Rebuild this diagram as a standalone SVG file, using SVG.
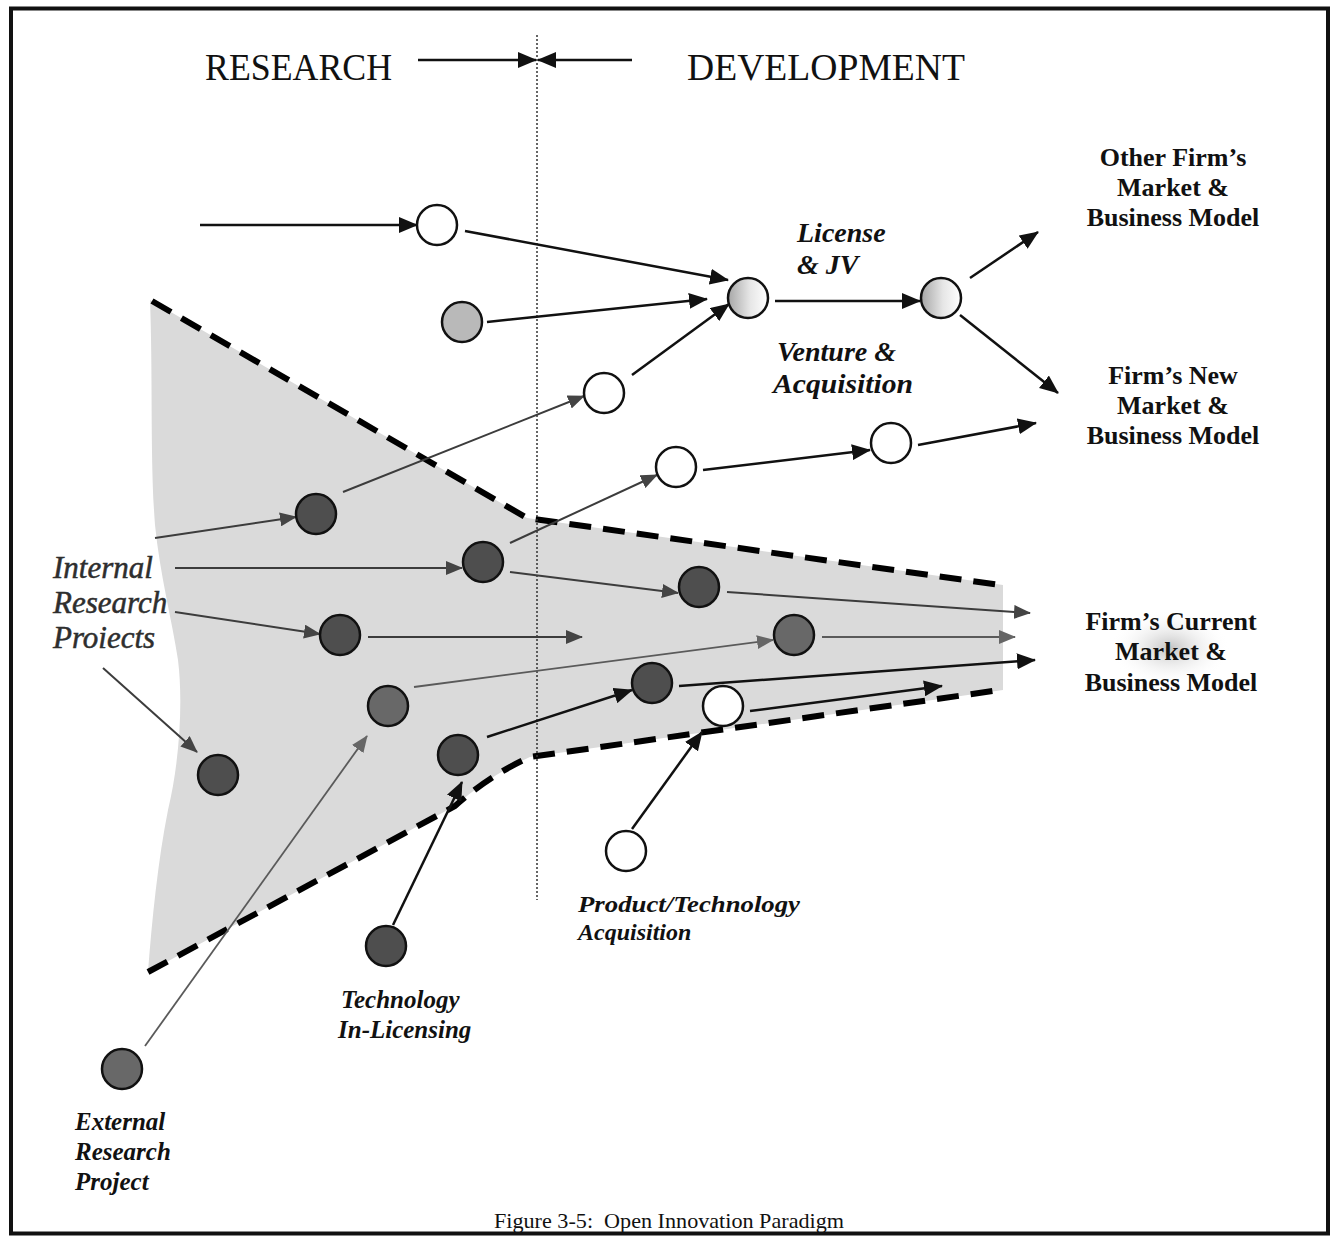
<svg xmlns="http://www.w3.org/2000/svg" width="1334" height="1237" viewBox="0 0 1334 1237">
  <style>
    .serif { font-family: "Liberation Serif", "Times New Roman", serif; }
    .head { font-size: 38px; fill: #111; }
    .bi { font-weight: bold; font-style: italic; fill: #111; }
    .b { font-weight: bold; fill: #111; }
    .node { stroke: #111; stroke-width: 2.5; }
    .dark { fill: #4e4e4e; }
    .mid { fill: #686868; }
    .light { fill: #b9b9b9; }
    .white { fill: #ffffff; }
    .grad { fill: url(#pipe); }
    .blk { stroke: #111; stroke-width: 2.5; fill: none; marker-end: url(#ahBlack); }
    .gry { stroke: #3c3c3c; stroke-width: 2; fill: none; marker-end: url(#ahGray); }
    .gryl { stroke: #5a5a5a; stroke-width: 1.8; fill: none; marker-end: url(#ahGrayL); }
    .edge { stroke: #000; stroke-width: 6; stroke-dasharray: 22 12; fill: none; }
  </style>
  <defs>
    <linearGradient id="pipe" x1="0" y1="0" x2="1" y2="0">
      <stop offset="0" stop-color="#a6a6a6"/>
      <stop offset="0.55" stop-color="#e6e6e6"/>
      <stop offset="1" stop-color="#ffffff"/>
    </linearGradient>
    <radialGradient id="glow" cx="0.5" cy="0.5" r="0.5">
      <stop offset="0" stop-color="#bdbdbd" stop-opacity="0.9"/>
      <stop offset="1" stop-color="#ffffff" stop-opacity="0"/>
    </radialGradient>
    <marker id="ahBlack" markerUnits="userSpaceOnUse" markerWidth="20" markerHeight="16" refX="18" refY="8" orient="auto">
      <path d="M0,0 L19,8 L0,16 z" fill="#111"/>
    </marker>
    <marker id="ahGray" markerUnits="userSpaceOnUse" markerWidth="17" markerHeight="14" refX="16" refY="7" orient="auto">
      <path d="M0,0 L17,7 L0,14 z" fill="#444"/>
    </marker>
    <marker id="ahGrayL" markerUnits="userSpaceOnUse" markerWidth="17" markerHeight="14" refX="16" refY="7" orient="auto">
      <path d="M0,0 L17,7 L0,14 z" fill="#666"/>
    </marker>
  </defs>

  <!-- page -->
  <rect x="0" y="0" width="1334" height="1237" fill="#fff"/>
  <rect id="frame" x="11" y="8.5" width="1317" height="1225" fill="none" stroke="#111" stroke-width="4"/>

  <!-- funnel of the firm's own projects -->
  <g id="funnel">
    <path d="M150,300 L527,518 L1003,585 L1003,690 L530,757 Q490,775 455,806 L148,972
             C152,920 158,860 168,810 C180,760 183,700 178,660 C172,620 160,575 155,525 C150,460 153,380 150,300 Z"
          fill="#dadada"/>
    <ellipse cx="1170" cy="648" rx="60" ry="38" fill="url(#glow)"/>
    <path class="edge" d="M152,301 L527,518 L1000,585"/>
    <path class="edge" d="M148,972 L455,806 Q490,775 530,757 L1000,690"/>
  </g>

  <!-- research / development divide -->
  <g id="divide">
    <line x1="537" y1="35" x2="537" y2="900" stroke="#333" stroke-width="1.5" stroke-dasharray="2 2"/>
    <line x1="418" y1="60" x2="536" y2="60" class="blk"/>
    <line x1="632" y1="60" x2="538" y2="60" class="blk"/>
    <text class="serif head" x="205" y="80" textLength="187" lengthAdjust="spacingAndGlyphs">RESEARCH</text>
    <text class="serif head" x="687" y="80" textLength="278" lengthAdjust="spacingAndGlyphs">DEVELOPMENT</text>
  </g>

  <!-- connectors -->
  <g id="connectors">
    <line class="blk" x1="200" y1="225" x2="417" y2="225"/>
    <line class="blk" x1="465" y1="231" x2="728" y2="280"/>
    <line class="blk" x1="487" y1="322" x2="707" y2="299"/>
    <line class="blk" x1="632" y1="375" x2="729" y2="304"/>
    <line class="blk" x1="775" y1="301" x2="920" y2="301"/>
    <line class="blk" x1="970" y1="278" x2="1038" y2="232"/>
    <line class="blk" x1="960" y1="315" x2="1058" y2="393"/>
    <line class="blk" x1="918" y1="445" x2="1036" y2="423"/>
    <line class="blk" x1="703" y1="470" x2="870" y2="450"/>

    <line class="gry" x1="155" y1="538" x2="296" y2="517"/>
    <line class="gry" x1="343" y1="492" x2="584" y2="396"/>
    <line class="gry" x1="175" y1="568" x2="462" y2="568"/>
    <line class="gry" x1="510" y1="543" x2="657" y2="475"/>
    <line class="gry" x1="510" y1="572" x2="678" y2="593"/>
    <line class="gry" x1="727" y1="592" x2="1030" y2="613"/>
    <line class="gry" x1="175" y1="612" x2="320" y2="634"/>
    <line class="gry" x1="368" y1="637" x2="582" y2="637"/>
    <line class="gryl" x1="822" y1="637" x2="1015" y2="637"/>
    <line class="gryl" x1="414" y1="687" x2="773" y2="640"/>
    <line class="gry" x1="103" y1="668" x2="197" y2="752"/>
    <line class="gryl" x1="145" y1="1046" x2="367" y2="736"/>

    <line class="blk" x1="679" y1="686" x2="1035" y2="660"/>
    <line class="blk" x1="750" y1="711" x2="942" y2="686"/>
    <line class="blk" x1="487" y1="737" x2="632" y2="690"/>
    <line class="blk" x1="393" y1="925" x2="462" y2="782"/>
    <line class="blk" x1="632" y1="829" x2="702" y2="732"/>
  </g>

  <!-- projects -->
  <g id="n-ext-top"><circle class="node white" cx="437" cy="225" r="20"/></g>
  <g id="n-ext-gray"><circle class="node light" cx="462" cy="322" r="20"/></g>
  <g id="n-license"><circle class="node grad" cx="748" cy="298" r="20"/></g>
  <g id="n-venture"><circle class="node grad" cx="941" cy="298" r="20"/></g>
  <g id="n-spin1"><circle class="node white" cx="604" cy="393" r="20"/></g>
  <g id="n-spin2"><circle class="node white" cx="676" cy="467" r="20"/></g>
  <g id="n-spin3"><circle class="node white" cx="891" cy="443" r="20"/></g>

  <g id="n-int1"><circle class="node dark" cx="316" cy="514" r="20"/></g>
  <g id="n-int2"><circle class="node dark" cx="483" cy="562" r="20"/></g>
  <g id="n-int3"><circle class="node dark" cx="699" cy="587" r="20"/></g>
  <g id="n-int4"><circle class="node dark" cx="340" cy="635" r="20"/></g>
  <g id="n-int5"><circle class="node mid" cx="794" cy="635" r="20"/></g>
  <g id="n-int6"><circle class="node mid" cx="388" cy="706" r="20"/></g>
  <g id="n-int7"><circle class="node dark" cx="652" cy="683" r="20"/></g>
  <g id="n-acq-in"><circle class="node white" cx="723" cy="706" r="20"/></g>
  <g id="n-int8"><circle class="node dark" cx="458" cy="755" r="20"/></g>
  <g id="n-int9"><circle class="node dark" cx="218" cy="775" r="20"/></g>

  <g id="n-acq"><circle class="node white" cx="626" cy="851" r="20"/></g>
  <g id="n-inlic"><circle class="node dark" cx="386" cy="946" r="20"/></g>
  <g id="n-ext-proj"><circle class="node mid" cx="122" cy="1069" r="20"/></g>

  <!-- labels -->
  <g id="lbl-license" class="serif bi" font-size="28">
    <text x="797" y="242">License</text>
    <text x="797" y="274">&amp; JV</text>
  </g>
  <g id="lbl-venture" class="serif bi" font-size="28">
    <text x="777" y="361">Venture &amp;</text>
    <text x="773" y="393" textLength="140" lengthAdjust="spacingAndGlyphs">Acquisition</text>
  </g>
  <g id="lbl-other" class="serif b" font-size="26" text-anchor="middle">
    <text x="1173" y="166">Other Firm’s</text>
    <text x="1173" y="196">Market &amp;</text>
    <text x="1173" y="226">Business Model</text>
  </g>
  <g id="lbl-new" class="serif b" font-size="26" text-anchor="middle">
    <text x="1173" y="384">Firm’s New</text>
    <text x="1173" y="414">Market &amp;</text>
    <text x="1173" y="444">Business Model</text>
  </g>
  <g id="lbl-current" class="serif b" font-size="26" text-anchor="middle">
    <text x="1171" y="630">Firm’s Current</text>
    <text x="1171" y="660">Market &amp;</text>
    <text x="1171" y="691">Business Model</text>
  </g>
  <g id="lbl-internal" class="serif" font-size="31" font-style="italic" fill="#2e2e2e" stroke="#2e2e2e" stroke-width="0.5">
    <text x="53" y="578">Internal</text>
    <text x="53" y="613">Research</text>
    <text x="53" y="648">Proiects</text>
  </g>
  <g id="lbl-inlic" class="serif bi" font-size="25">
    <text x="341" y="1008">Technology</text>
    <text x="338" y="1038">In-Licensing</text>
  </g>
  <g id="lbl-acq" class="serif bi" font-size="24">
    <text x="578" y="912" textLength="222" lengthAdjust="spacingAndGlyphs">Product/Technology</text>
    <text x="578" y="940">Acquisition</text>
  </g>
  <g id="lbl-ext" class="serif bi" font-size="25">
    <text x="75" y="1130">External</text>
    <text x="75" y="1160">Research</text>
    <text x="75" y="1190">Project</text>
  </g>

  <text id="caption" class="serif" x="494" y="1228" font-size="21" fill="#111" xml:space="preserve" textLength="350" lengthAdjust="spacingAndGlyphs">Figure 3-5:  Open Innovation Paradigm</text>
</svg>
